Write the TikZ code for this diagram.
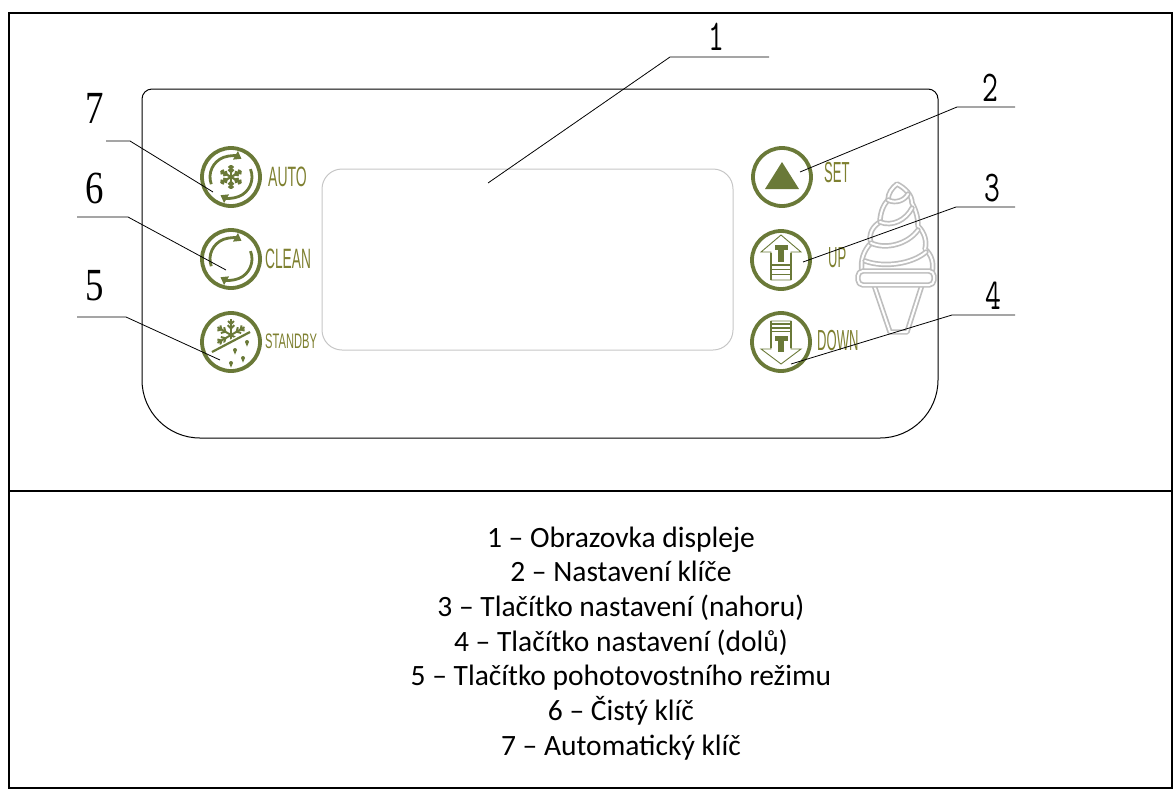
\documentclass[tikz,border=0pt]{standalone}
\usepackage{fontspec}
\usepackage{graphicx}
\usetikzlibrary{arrows.meta}

\newfontfamily\legendfont{Carlito}
\newfontfamily\calloutserif{Liberation Serif}
\newfontfamily\keyfont{Liberation Sans}

\definecolor{keygreen}{RGB}{106,121,56}
\definecolor{keytext}{RGB}{126,128,48}
\definecolor{screengray}{RGB}{198,198,198}
\definecolor{conegray}{RGB}{190,190,190}

\tikzset{
  frameline/.style={line width=2pt},
  panelline/.style={line width=1pt},
  leader/.style={line width=0.8pt},
  keyring/.style={circle, draw=keygreen, line width=3.8pt, minimum size=58pt, inner sep=0pt},
  keylabel/.style={anchor=west, text=keytext, inner sep=0pt},
  thinnum/.style={inner sep=0pt, font=\ttfamily\fontsize{44}{44}\selectfont},
  serifnum/.style={inner sep=0pt, font=\calloutserif\fontsize{46}{46}\selectfont},
  legendline/.style={anchor=base, inner sep=0pt, font=\legendfont\fontsize{29.5}{29.5}\selectfont},
  conepart/.style={draw=conegray, line width=5.4pt, line join=round, line cap=round,
                   postaction={draw=white, line width=2pt}},
  circarrow/.style={-{Triangle[length=7pt, width=9.5pt]}, line width=2.8pt},
  pics/flake/.style={code={
    \foreach \a in {90,150,...,390}{
      \draw (0,0) -- (\a:12);
      \draw (\a:5) -- ++({\a+45}:3.6);
      \draw (\a:5) -- ++({\a-45}:3.6);
      \draw (\a:8.5) -- ++({\a+45}:3.2);
      \draw (\a:8.5) -- ++({\a-45}:3.2);
    }}},
  pics/drop/.style={code={
    \fill (0,4.6) -- (2,0) arc[start angle=0, end angle=-180, radius=2] -- cycle;}},
}

\begin{document}
\begin{tikzpicture}[x=1pt, y=-1pt]
\useasboundingbox (0,0) rectangle (1175,790);

% outer frame and divider
\draw[frameline] (9,13) rectangle (1172,788);
\draw[frameline] (9,491) -- (1172,491);

% control panel outline
\draw[panelline] (142,99) .. controls (142,93.5) and (146.5,89) .. (152,89)
  -- (928,89) .. controls (933.5,89) and (938,93.5) .. (938,99)
  -- (938,380) .. controls (938,412) and (912,438) .. (880,438)
  -- (200,438) .. controls (168,438) and (142,412) .. (142,380) -- cycle;

% display window
\node[draw=screengray, line width=1pt, rounded corners=20pt,
      minimum width=411pt, minimum height=181pt, inner sep=0pt] (display) at (527.5,259.5) {};

% soft-serve cone emblem
\draw[conepart] (874,285) -- (890,332) -- (907,332) -- (922,285);
\draw[conepart, fill=white] (862,272) .. controls (860,260) and (864,250) .. (871,243)
   .. controls (868,234) and (873,226) .. (880,222)
   .. controls (880,212) and (884,204) .. (888,200)
   .. controls (888,193) and (892,188) .. (897,184)
   .. controls (905,188) and (912,195) .. (912,203)
   .. controls (917,212) and (918,220) .. (918,226)
   .. controls (925,233) and (927,242) .. (925,249)
   .. controls (932,255) and (934,264) .. (932,272);
\draw[conepart] (888,200) .. controls (896,204) and (905,200) .. (908,194);
\draw[conepart] (880,222) .. controls (892,227) and (906,220) .. (912,208);
\draw[conepart] (871,243) .. controls (886,250) and (908,244) .. (918,230);
\draw[conepart] (865,261) .. controls (884,268) and (912,264) .. (926,252);
\draw[conepart, fill=white, rounded corners=5pt] (858,271) rectangle (934,285);

% key rings
\node[keyring] (kauto)  at (231,177) {};
\node[keyring] (kclean) at (231,259) {};
\node[keyring] (kstand) at (231,342) {};
\node[keyring] (kset)   at (782,177) {};
\node[keyring] (kup)    at (781,260) {};
\node[keyring] (kdown)  at (781,342) {};

% AUTO: circular arrows around a snowflake
\begin{scope}[shift={(kauto.center)}, yscale=-1, keygreen]
  \draw[circarrow] (200:21) arc[start angle=200, end angle=60, radius=21];
  \draw[circarrow] (22:21) arc[start angle=22, end angle=-120, radius=21];
  \pic[line width=2.2pt] {flake};
\end{scope}

% CLEAN: circular arrows
\begin{scope}[shift={(kclean.center)}, yscale=-1, keygreen]
  \draw[circarrow] (200:21) arc[start angle=200, end angle=60, radius=21];
  \draw[circarrow] (22:21) arc[start angle=22, end angle=-120, radius=21];
\end{scope}

% STANDBY: crossed-out snowflake with drops
\begin{scope}[shift={(kstand.center)}, yscale=-1, keygreen]
  \begin{scope}
    \clip (-30,-12.8) -- (30,18.8) -- (30,40) -- (-30,40) -- cycle;
    \pic[line width=2pt, scale=1.3] at (0,7) {flake};
  \end{scope}
  \draw[line width=2.2pt] (-19,-10) -- (19,10);
  \pic at (16,0) {drop};
  \pic at (4,-8) {drop};
  \pic at (12,-16) {drop};
  \pic at (0,-21) {drop};
\end{scope}

% SET: filled triangle
\begin{scope}[shift={(kset.center)}, yscale=-1]
  \fill[keygreen] (0,15) -- (17,-12) -- (-17,-12) -- cycle;
\end{scope}

% UP: outlined arrow with T and bars
\begin{scope}[shift={(kup.center)}, yscale=-1, keygreen]
  \draw[line width=0.9pt, line join=miter] (0,25) -- (20,8) -- (10,8) -- (10,-20) -- (-10,-20) -- (-10,8) -- (-20,8) -- cycle;
  \draw[line width=1.8pt] (10,7) -- (10,-20) (-10,7) -- (-10,-20);
  \fill (-6.5,15) rectangle (7,10);
  \fill (-2.6,10) rectangle (2.6,-2);
  \fill (-10,-4) rectangle (10,-5.6);
  \fill (-10,-8.5) rectangle (10,-10.1);
  \fill (-10,-13.5) rectangle (10,-15.1);
\end{scope}

% DOWN: outlined arrow with bars and T
\begin{scope}[shift={(kdown.center)}, yscale=-1, keygreen]
  \draw[line width=0.9pt, line join=miter] (0,-22) -- (20,-7) -- (10,-7) -- (10,21) -- (-10,21) -- (-10,-7) -- (-20,-7) -- cycle;
  \draw[line width=1.8pt] (10,-6) -- (10,21) (-10,-6) -- (-10,21);
  \fill (-10,18.6) rectangle (10,17);
  \fill (-10,15) rectangle (10,13.4);
  \fill (-10,11.4) rectangle (10,9.8);
  \fill (-6.5,6) rectangle (7,1);
  \fill (-2.6,1) rectangle (2.6,-10);
\end{scope}

% key captions
\node[keylabel, font=\keyfont\fontsize{28}{28}\selectfont] (lauto)  at (268,177) {\scalebox{0.5}[1]{AUTO}};
\node[keylabel, font=\keyfont\fontsize{28}{28}\selectfont] (lclean) at (265,259) {\scalebox{0.49}[1]{CLEAN}};
\node[keylabel, font=\keyfont\fontsize{21}{21}\selectfont] (lstand) at (265,341) {\scalebox{0.53}[1]{STANDBY}};
\node[keylabel, font=\keyfont\fontsize{29}{29}\selectfont] (lset)   at (824,173) {\scalebox{0.45}[1]{SET}};
\node[keylabel, font=\keyfont\fontsize{29}{29}\selectfont] (lup)    at (828,258) {\scalebox{0.45}[1]{UP}};
\node[keylabel, font=\keyfont\fontsize{29}{29}\selectfont] (ldown)  at (817,341) {\scalebox{0.45}[1]{DOWN}};

% callout numbers
\node[thinnum] (n1) at (716,37)  {\scalebox{0.7}[1]{1}};
\node[thinnum] (n2) at (990,88)  {\scalebox{0.7}[1]{2}};
\node[thinnum] (n3) at (992,188) {\scalebox{0.7}[1]{3}};
\node[thinnum] (n4) at (993,296) {\scalebox{0.7}[1]{4}};
\node[serifnum] (n7) at (95,108) {\scalebox{0.8}[1]{7}};
\node[serifnum] (n6) at (95,188) {\scalebox{0.8}[1]{6}};
\node[serifnum] (n5) at (95,286) {\scalebox{0.8}[1]{5}};

% leader shelves, bends and targets
\coordinate (s1) at (769,57);  \coordinate (b1) at (670,57);  \coordinate (t1) at (488,183);
\coordinate (s2) at (1015,107);\coordinate (b2) at (957,107); \coordinate (t2) at (800,172);
\coordinate (s3) at (1015,207);\coordinate (b3) at (956,207); \coordinate (t3) at (803,262);
\coordinate (s4) at (1015,315);\coordinate (b4) at (952,315); \coordinate (t4) at (791,364);
\coordinate (s7) at (106,141); \coordinate (b7) at (130,141); \coordinate (t7) at (213,192);
\coordinate (s6) at (77,217);  \coordinate (b6) at (128,217); \coordinate (t6) at (226,270);
\coordinate (s5) at (77,317);  \coordinate (b5) at (126,317); \coordinate (t5) at (220,360);

\draw[leader] (s1) -- (b1) -- (t1);
\draw[leader] (s2) -- (b2) -- (t2);
\draw[leader] (s3) -- (b3) -- (t3);
\draw[leader] (s4) -- (b4) -- (t4);
\draw[leader] (s7) -- (b7) -- (t7);
\draw[leader] (s6) -- (b6) -- (t6);
\draw[leader] (s5) -- (b5) -- (t5);

% legend
\node[legendline] (leg1) at (621,547.0) {1 – Obrazovka displeje};
\node[legendline] (leg2) at (621,581.7) {2 – Nastavení klíče};
\node[legendline] (leg3) at (621,616.3) {3 – Tlačítko nastavení (nahoru)};
\node[legendline] (leg4) at (621,651.0) {4 – Tlačítko nastavení (dolů)};
\node[legendline] (leg5) at (621,685.7) {5 – Tlačítko pohotovostního režimu};
\node[legendline] (leg6) at (621,720.3) {6 – Čistý klíč};
\node[legendline] (leg7) at (621,755.0) {7 – Automatický klíč};
\end{tikzpicture}
\end{document}
